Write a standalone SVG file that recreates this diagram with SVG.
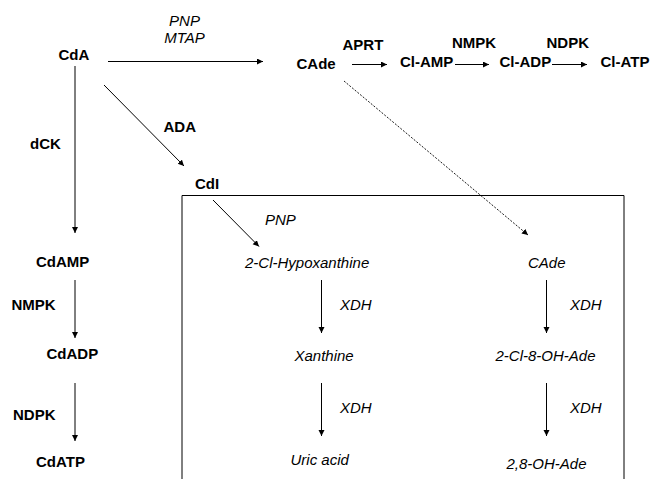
<svg xmlns="http://www.w3.org/2000/svg" width="651" height="479" viewBox="0 0 651 479">
<style>
text{font-family:"Liberation Sans",Arial,sans-serif;font-size:15px;fill:#000}
.b{font-weight:bold}
.i{font-style:italic}
.ln{stroke:#000;stroke-width:1;fill:none}
.ds{stroke:#000;stroke-width:0.9;fill:none;stroke-dasharray:2,1.5}
</style>
<defs>
<marker id="ah" markerUnits="userSpaceOnUse" markerWidth="7" markerHeight="7" refX="6" refY="3" orient="auto">
<path d="M0,0 L6,3 L0,6 z" fill="#000"/>
</marker>
</defs>
<rect width="651" height="479" fill="#fff"/>
<g id="box"><path d="M182,480 L182,195.5 L624,195.5 L624,480" class="ln"/></g>
<g id="connectors">
<line x1="108" y1="61.5" x2="263" y2="61.5" class="ln" marker-end="url(#ah)"/>
<line x1="352" y1="64.5" x2="387" y2="64.5" class="ln" marker-end="url(#ah)"/>
<line x1="455" y1="64.5" x2="489" y2="64.5" class="ln" marker-end="url(#ah)"/>
<line x1="552" y1="64.5" x2="587" y2="64.5" class="ln" marker-end="url(#ah)"/>
<line x1="344" y1="81" x2="528" y2="235" class="ds" marker-end="url(#ah)"/>
<line x1="104" y1="85" x2="184" y2="166" class="ln" marker-end="url(#ah)"/>
<line x1="75" y1="66" x2="75" y2="233" class="ln" marker-end="url(#ah)"/>
<line x1="75" y1="280" x2="75" y2="338" class="ln" marker-end="url(#ah)"/>
<line x1="75" y1="383" x2="75" y2="441" class="ln" marker-end="url(#ah)"/>
<line x1="213" y1="200" x2="259" y2="246.5" class="ln" marker-end="url(#ah)"/>
<line x1="321.5" y1="280" x2="321.5" y2="333" class="ln" marker-end="url(#ah)"/>
<line x1="321.5" y1="383" x2="321.5" y2="436" class="ln" marker-end="url(#ah)"/>
<line x1="546.5" y1="280" x2="546.5" y2="333" class="ln" marker-end="url(#ah)"/>
<line x1="546.5" y1="383" x2="546.5" y2="436" class="ln" marker-end="url(#ah)"/>
</g>
<g id="labels">
<text class="i" x="184.5" y="25.5" text-anchor="middle">PNP</text>
<text class="i" x="184.5" y="42.5" text-anchor="middle">MTAP</text>
<text class="b" x="342.5" y="50">APRT</text>
<text class="b" x="452" y="48">NMPK</text>
<text class="b" x="546.5" y="48">NDPK</text>
<text class="b" x="163.5" y="132">ADA</text>
<text class="b" x="30" y="149">dCK</text>
<text class="b" x="11.5" y="310">NMPK</text>
<text class="b" x="13" y="419.5">NDPK</text>
<text class="i" x="265" y="225">PNP</text>
<text class="i" x="340" y="310">XDH</text>
<text class="i" x="340" y="412.5">XDH</text>
<text class="i" x="570" y="310">XDH</text>
<text class="i" x="570" y="412.5">XDH</text>
</g>
<g id="n-CdA"><text class="b" x="58.5" y="60">CdA</text></g>
<g id="n-CAde"><text class="b" x="296.5" y="69">CAde</text></g>
<g id="n-ClAMP"><text class="b" x="400" y="67">Cl-AMP</text></g>
<g id="n-ClADP"><text class="b" x="499.5" y="67">Cl-ADP</text></g>
<g id="n-ClATP"><text class="b" x="600.5" y="67">Cl-ATP</text></g>
<g id="n-CdI"><text class="b" x="195" y="189">CdI</text></g>
<g id="n-CdAMP"><text class="b" x="36" y="266.5">CdAMP</text></g>
<g id="n-CdADP"><text class="b" x="46.5" y="359">CdADP</text></g>
<g id="n-CdATP"><text class="b" x="36" y="467">CdATP</text></g>
<g id="n-ClHypo"><text class="i" x="245" y="267.5">2-Cl-Hypoxanthine</text></g>
<g id="n-Xanthine"><text class="i" x="294.5" y="360.5">Xanthine</text></g>
<g id="n-Uric"><text class="i" x="290.5" y="465">Uric acid</text></g>
<g id="n-CAde2"><text class="i" x="528" y="268">CAde</text></g>
<g id="n-ClOHAde"><text class="i" x="495.5" y="360.5">2-Cl-8-OH-Ade</text></g>
<g id="n-OHAde"><text class="i" x="506.5" y="469">2,8-OH-Ade</text></g>
</svg>
